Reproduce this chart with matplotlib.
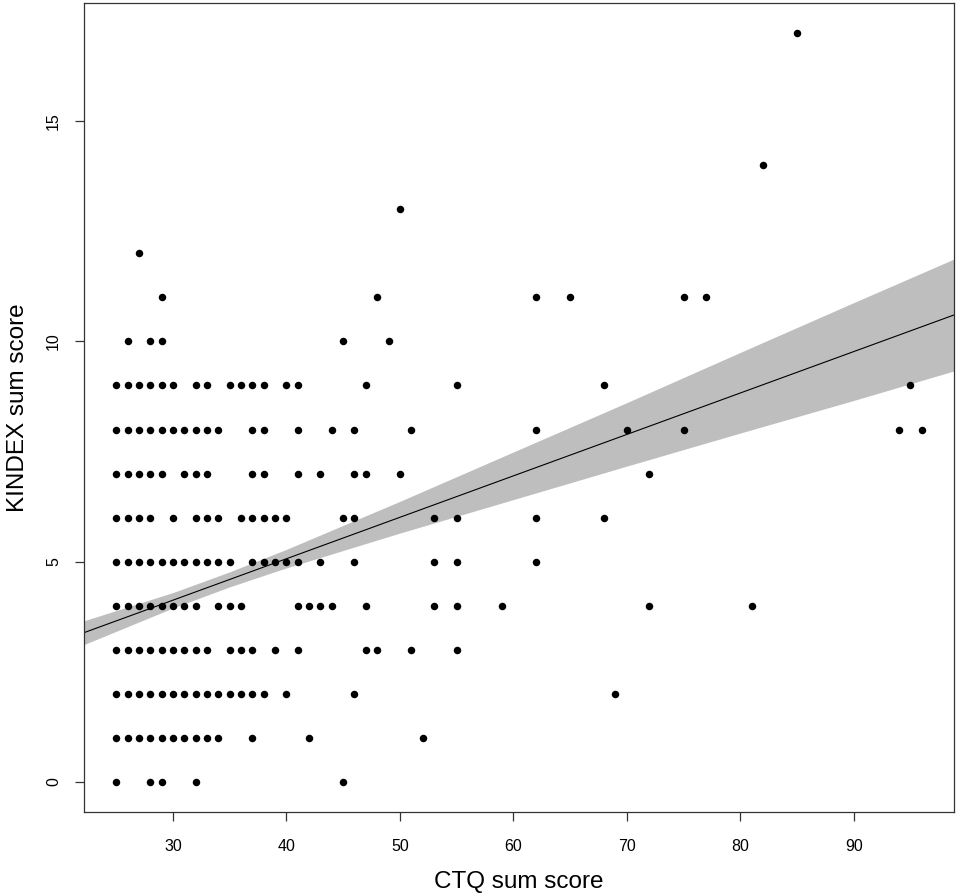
import numpy as np
import matplotlib
matplotlib.use("Agg")
import matplotlib.pyplot as plt

# CTQ sum score values for each KINDEX row (y value -> list of x values)
ROWS = {
    0: [25, 28, 29, 32, 45],
    1: list(range(25, 35)) + [37, 42, 52],
    2: list(range(25, 39)) + [40, 46, 69],
    3: list(range(25, 34)) + [35, 36, 37, 39, 41, 47, 48, 51, 55],
    4: list(range(25, 33)) + [34, 35, 36, 41, 42, 43, 44, 47, 53, 55, 59, 72, 81],
    5: list(range(25, 36)) + [37, 38, 39, 40, 41, 43, 46, 53, 55, 62],
    6: [25, 26, 27, 28, 30, 32, 33, 34, 36, 37, 38, 39, 40, 45, 46, 53, 55, 62, 68],
    7: [25, 26, 27, 28, 29, 31, 32, 33, 37, 38, 41, 43, 46, 47, 50, 72],
    8: list(range(25, 35)) + [37, 38, 41, 44, 46, 51, 62, 70, 75, 94, 96],
    9: [25, 26, 27, 28, 29, 30, 32, 33, 35, 36, 37, 38, 40, 41, 47, 55, 68, 95],
    10: [26, 28, 29, 45, 49],
    11: [29, 48, 62, 65, 75, 77],
    12: [27],
    13: [50],
    14: [82],
    17: [85],
}

ctq = np.array([x for y, xs in ROWS.items() for x in xs], dtype=float)
kindex = np.array([y for y, xs in ROWS.items() for x in xs], dtype=float)

# regression line and 95% band
# (the raw data has overlapping points, so a refit would not match)
FIT_X = [22.16, 98.84]
FIT_Y = [3.39, 10.60]
BAND_X = [22.16, 30, 35, 40, 50, 60, 70, 80, 90, 98.84]
BAND_UP = [3.66, 4.30, 4.77, 5.28, 6.37, 7.49, 8.61, 9.75, 10.88, 11.87]
BAND_LO = [3.12, 3.95, 4.43, 4.86, 5.65, 6.41, 7.17, 7.92, 8.66, 9.33]

X_TICKS = [30, 40, 50, 60, 70, 80, 90]
Y_TICKS = [0, 5, 10, 15]

plt.rcParams['font.family'] = ['Liberation Sans', 'DejaVu Sans']

fig = plt.figure(figsize=(9.57, 8.93), dpi=100)
ax = fig.add_axes([84 / 957, 1 - 812 / 893, 870 / 957, 809 / 893])

# R-style axis limits (4% padding)
xr = ctq.max() - ctq.min()
yr = kindex.max() - kindex.min()
ax.set_xlim(ctq.min() - 0.04 * xr, ctq.max() + 0.04 * xr)
ax.set_ylim(kindex.min() - 0.04 * yr, kindex.max() + 0.04 * yr)

ax.fill_between(BAND_X, BAND_LO, BAND_UP, color="#bebebe", lw=0, zorder=1)
ax.plot(FIT_X, FIT_Y, color="black", lw=0.8, zorder=2)
ax.plot(ctq, kindex, "o", color="black", ms=5.4, mec="none", zorder=3)

ax.set_xticks(X_TICKS)
ax.set_yticks(Y_TICKS)
ax.tick_params(axis="both", direction="out", length=6.5, width=0.9,
               color="#333333", labelsize=11.5)
ax.tick_params(axis="x", pad=13)
ax.tick_params(axis="y", pad=10)
for lab in ax.get_yticklabels():
    lab.set_rotation(90)
    lab.set_va("center")
for sp in ax.spines.values():
    sp.set_color("#333333")
    sp.set_linewidth(0.9)

ax.set_xlabel("CTQ sum score", fontsize=17.5, labelpad=12)
ax.set_ylabel("KINDEX sum score", fontsize=17.5, labelpad=12)

fig.savefig("out.png", dpi=100)
